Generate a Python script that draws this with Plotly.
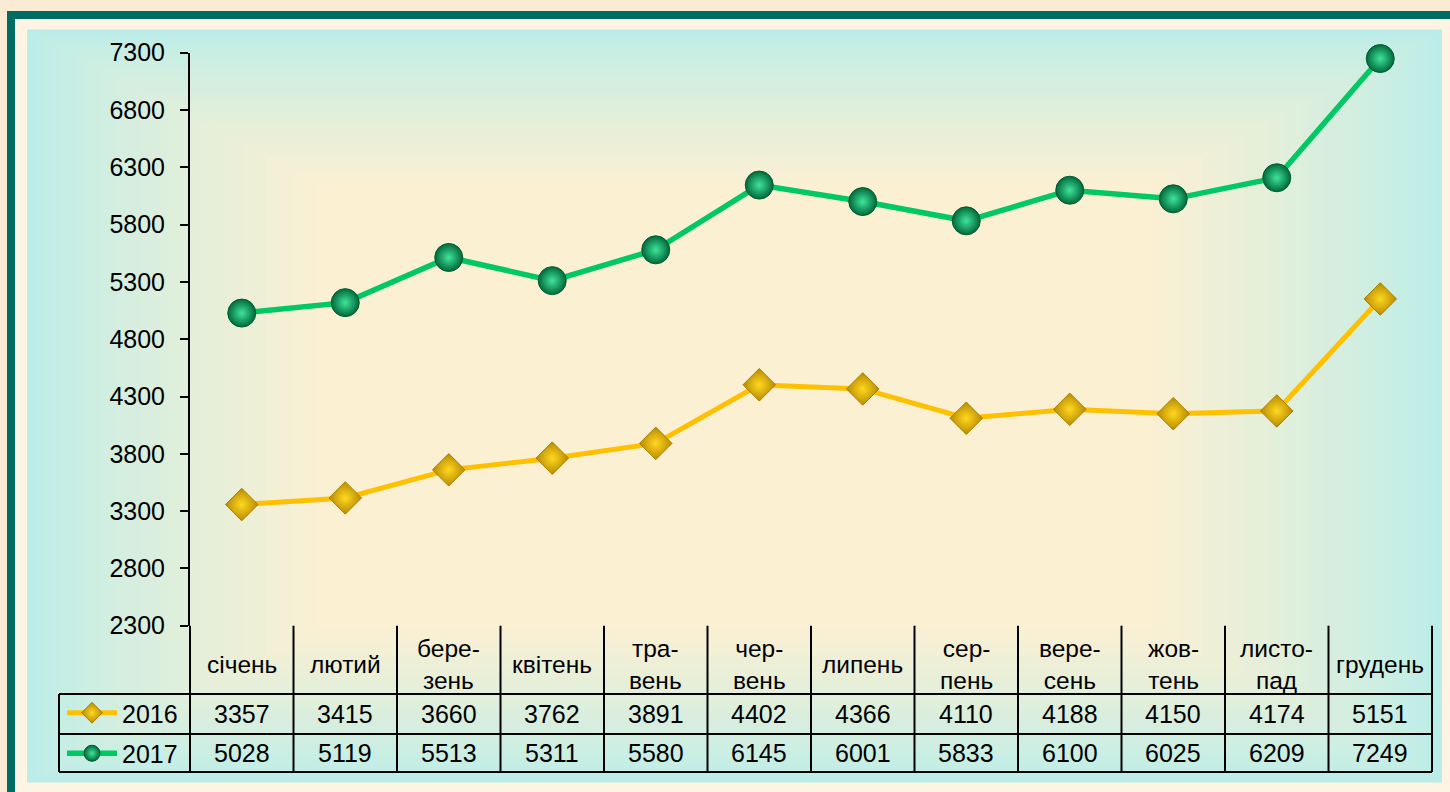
import plotly.graph_objects as go

months = ["січень", "лютий", "бере-<br>зень", "квітень", "тра-<br>вень", "чер-<br>вень",
          "липень", "сер-<br>пень", "вере-<br>сень", "жов-<br>тень", "листо-<br>пад", "грудень"]
series_names = ["2016", "2017"]
values_2016 = [3357, 3415, 3660, 3762, 3891, 4402, 4366, 4110, 4188, 4150, 4174, 5151]
values_2017 = [5028, 5119, 5513, 5311, 5580, 6145, 6001, 5833, 6100, 6025, 6209, 7249]
y_ticks = [2300, 2800, 3300, 3800, 4300, 4800, 5300, 5800, 6300, 6800, 7300]

W, H = 1450, 792
FONT = "Liberation Sans, Arial, sans-serif"

def px(x):
    return x / W

def py(y):
    return 1 - y / H

X0, X1 = 190, 1432
Y_TOP, Y_AX = 52.7, 625.7
xdom = [px(X0), px(X1)]
ydom = [py(Y_AX), py(Y_TOP)]
idx = list(range(len(months)))

fig = go.Figure()

fig.add_trace(go.Scatter(
    x=idx, y=values_2016, name=series_names[0], mode="lines+markers", legendgroup="a",
    line=dict(color="#FFC000", width=5),
    marker=dict(symbol="diamond", size=25, color="#B88A00",
                gradient=dict(type="radial", color="#FFD820"),
                line=dict(color="#A87E00", width=1)),
    cliponaxis=False,
))
fig.add_trace(go.Scatter(
    x=idx, y=values_2017, name=series_names[1], mode="lines+markers", legendgroup="b",
    line=dict(color="#00C864", width=5.5),
    marker=dict(symbol="circle", size=28, color="#00693A",
                gradient=dict(type="radial", color="#40E49C"),
                line=dict(color="#005A30", width=1)),
    cliponaxis=False,
))

shapes = []
# outer background band + teal border
shapes.append(dict(type="rect", xref="paper", yref="paper", x0=px(11), x1=px(1460), y0=py(800), y1=py(15),
                   line=dict(color="#006B63", width=8), fillcolor="#FDF4E4", layer="below"))

# panel gradient (rectangular path gradient: cyan edges -> warm yellow centre)
c_edge = (186, 237, 233)
c_mid = (252, 240, 210)
PX0, PX1, PY0, PY1 = 27, 1442, 29.5, 782.5
cx, cy = (PX0 + PX1) / 2, (PY0 + PY1) / 2
n = 36
for k in range(n + 1):
    t = k / n
    f = t ** 0.8
    col = tuple(int(round(c_edge[i] + (c_mid[i] - c_edge[i]) * f)) for i in range(3))
    s = 0.42 * t
    x0 = PX0 + (cx - PX0) * s
    x1 = PX1 - (PX1 - cx) * s
    y0 = PY0 + (cy - PY0) * s
    y1 = PY1 - (PY1 - cy) * s
    shapes.append(dict(type="rect", xref="paper", yref="paper", x0=px(x0), x1=px(x1), y0=py(y1), y1=py(y0),
                       line=dict(width=0), fillcolor="rgb(%d,%d,%d)" % col, layer="below"))

# data table grid
LEG_X = 59
ROW_H1, ROW_H2, ROW_END = 694, 734, 772
colw = (X1 - X0) / len(months)
for i in range(len(months) + 1):
    xx = X0 + i * colw
    shapes.append(dict(type="line", xref="paper", yref="paper", x0=px(xx), x1=px(xx),
                       y0=py(Y_AX), y1=py(ROW_END), line=dict(color="black", width=2)))
shapes.append(dict(type="line", xref="paper", yref="paper", x0=px(LEG_X), x1=px(LEG_X),
                   y0=py(ROW_H1), y1=py(ROW_END), line=dict(color="black", width=2)))
for yy in (ROW_H1, ROW_H2, ROW_END):
    shapes.append(dict(type="line", xref="paper", yref="paper", x0=px(LEG_X), x1=px(X1),
                       y0=py(yy), y1=py(yy), line=dict(color="black", width=2)))

annotations = []
for i, m in enumerate(months):
    annotations.append(dict(x=i, xref="x", y=py(664), yref="paper", text=m, showarrow=False,
                            font=dict(family=FONT, size=24.5, color="black"), xanchor="center", yanchor="middle"))
for row_y, vals in ((714, values_2016), (753, values_2017)):
    for i, v in enumerate(vals):
        annotations.append(dict(x=i, xref="x", y=py(row_y), yref="paper", text=str(v), showarrow=False,
                                font=dict(family=FONT, size=25, color="black"), xanchor="center", yanchor="middle"))

fig.update_layout(
    width=W, height=H,
    margin=dict(l=0, r=0, t=0, b=0, autoexpand=False),
    paper_bgcolor="#FBEBD4",
    plot_bgcolor="rgba(0,0,0,0)",
    shapes=shapes,
    annotations=annotations,
    showlegend=True,
    legend=dict(x=px(62), y=py(690), xanchor="left", yanchor="top",
                font=dict(family=FONT, size=25, color="black"),
                bgcolor="rgba(0,0,0,0)", itemwidth=50, tracegroupgap=5,
                traceorder="grouped"),
    xaxis=dict(domain=xdom, range=[-0.5, len(months) - 0.5], showticklabels=False, showgrid=False,
               zeroline=False, showline=False, ticks=""),
    yaxis=dict(domain=ydom, range=[y_ticks[0], y_ticks[-1]], tickvals=y_ticks, showgrid=False, zeroline=False,
               showline=True, linecolor="black", linewidth=2, ticks="outside", ticklen=8, tickwidth=2,
               tickcolor="black", ticklabelstandoff=10,
               tickfont=dict(family=FONT, size=25, color="black")),
    font=dict(family=FONT),
)

fig.write_html("out.html", config={"displayModeBar": False},
               post_script="document.body.style.margin='0';")
